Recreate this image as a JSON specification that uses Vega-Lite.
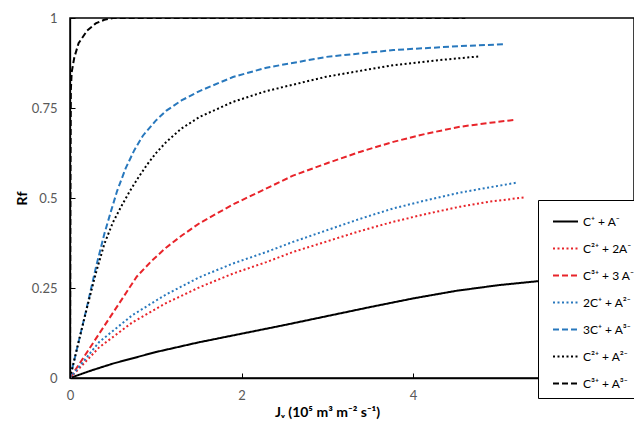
{
  "$schema": "https://vega.github.io/schema/vega-lite/v6.json",
  "autosize": {"type": "none"},
  "padding": {"left": 70, "top": 18, "right": 0, "bottom": 45},
  "width": 564,
  "height": 360,
  "background": "white",
  "config": {
    "view": {"stroke": "#000000", "strokeWidth": 1.5},
    "font": "Lato",
    "axis": {"grid": false, "labelColor": "#595959", "labelFontSize": 13, "labelFont": "Lato", "domainColor": "#000000", "tickColor": "#000000", "domainWidth": 1.3}
  },
  "data": {
    "values": [
      {"s": "C⁺ + A⁻", "x": 0, "y": 0}, {"s": "C⁺ + A⁻", "x": 0.25, "y": 0.021}, {"s": "C⁺ + A⁻", "x": 0.5, "y": 0.04}, {"s": "C⁺ + A⁻", "x": 1, "y": 0.072}, {"s": "C⁺ + A⁻", "x": 1.5, "y": 0.099}, {"s": "C⁺ + A⁻", "x": 2, "y": 0.123}, {"s": "C⁺ + A⁻", "x": 2.5, "y": 0.147}, {"s": "C⁺ + A⁻", "x": 3, "y": 0.172}, {"s": "C⁺ + A⁻", "x": 3.5, "y": 0.197}, {"s": "C⁺ + A⁻", "x": 4, "y": 0.221}, {"s": "C⁺ + A⁻", "x": 4.5, "y": 0.242}, {"s": "C⁺ + A⁻", "x": 5, "y": 0.258}, {"s": "C⁺ + A⁻", "x": 5.5, "y": 0.27}, {"s": "C⁺ + A⁻", "x": 5.8, "y": 0.276},

      {"s": "C²⁺ + 2A⁻", "x": 0, "y": 0}, {"s": "C²⁺ + 2A⁻", "x": 0.34, "y": 0.085}, {"s": "C²⁺ + 2A⁻", "x": 0.73, "y": 0.155}, {"s": "C²⁺ + 2A⁻", "x": 1.12, "y": 0.208}, {"s": "C²⁺ + 2A⁻", "x": 1.51, "y": 0.252}, {"s": "C²⁺ + 2A⁻", "x": 1.9, "y": 0.29}, {"s": "C²⁺ + 2A⁻", "x": 2.29, "y": 0.322}, {"s": "C²⁺ + 2A⁻", "x": 2.6, "y": 0.35}, {"s": "C²⁺ + 2A⁻", "x": 2.99, "y": 0.379}, {"s": "C²⁺ + 2A⁻", "x": 3.38, "y": 0.408}, {"s": "C²⁺ + 2A⁻", "x": 3.77, "y": 0.434}, {"s": "C²⁺ + 2A⁻", "x": 4.16, "y": 0.456}, {"s": "C²⁺ + 2A⁻", "x": 4.55, "y": 0.476}, {"s": "C²⁺ + 2A⁻", "x": 4.9, "y": 0.49}, {"s": "C²⁺ + 2A⁻", "x": 5.31, "y": 0.502},

      {"s": "C³⁺ + 3 A⁻", "x": 0, "y": 0}, {"s": "C³⁺ + 3 A⁻", "x": 0.78, "y": 0.282}, {"s": "C³⁺ + 3 A⁻", "x": 0.95, "y": 0.325}, {"s": "C³⁺ + 3 A⁻", "x": 1.12, "y": 0.362}, {"s": "C³⁺ + 3 A⁻", "x": 1.3, "y": 0.395}, {"s": "C³⁺ + 3 A⁻", "x": 1.51, "y": 0.43}, {"s": "C³⁺ + 3 A⁻", "x": 1.9, "y": 0.482}, {"s": "C³⁺ + 3 A⁻", "x": 2.25, "y": 0.522}, {"s": "C³⁺ + 3 A⁻", "x": 2.6, "y": 0.562}, {"s": "C³⁺ + 3 A⁻", "x": 2.99, "y": 0.596}, {"s": "C³⁺ + 3 A⁻", "x": 3.38, "y": 0.628}, {"s": "C³⁺ + 3 A⁻", "x": 3.77, "y": 0.656}, {"s": "C³⁺ + 3 A⁻", "x": 4.16, "y": 0.679}, {"s": "C³⁺ + 3 A⁻", "x": 4.55, "y": 0.698}, {"s": "C³⁺ + 3 A⁻", "x": 4.9, "y": 0.709}, {"s": "C³⁺ + 3 A⁻", "x": 5.19, "y": 0.717},

      {"s": "2C⁺ + A²⁻", "x": 0, "y": 0}, {"s": "2C⁺ + A²⁻", "x": 0.34, "y": 0.1}, {"s": "2C⁺ + A²⁻", "x": 0.73, "y": 0.175}, {"s": "2C⁺ + A²⁻", "x": 1.12, "y": 0.232}, {"s": "2C⁺ + A²⁻", "x": 1.51, "y": 0.28}, {"s": "2C⁺ + A²⁻", "x": 1.9, "y": 0.318}, {"s": "2C⁺ + A²⁻", "x": 2.29, "y": 0.35}, {"s": "2C⁺ + A²⁻", "x": 2.6, "y": 0.378}, {"s": "2C⁺ + A²⁻", "x": 2.99, "y": 0.41}, {"s": "2C⁺ + A²⁻", "x": 3.38, "y": 0.442}, {"s": "2C⁺ + A²⁻", "x": 3.77, "y": 0.471}, {"s": "2C⁺ + A²⁻", "x": 4.16, "y": 0.494}, {"s": "2C⁺ + A²⁻", "x": 4.55, "y": 0.515}, {"s": "2C⁺ + A²⁻", "x": 4.9, "y": 0.53}, {"s": "2C⁺ + A²⁻", "x": 5.22, "y": 0.543},

      {"s": "3C⁺ + A³⁻", "x": 0, "y": 0}, {"s": "3C⁺ + A³⁻", "x": 0.1, "y": 0.1}, {"s": "3C⁺ + A³⁻", "x": 0.2, "y": 0.2}, {"s": "3C⁺ + A³⁻", "x": 0.3, "y": 0.305}, {"s": "3C⁺ + A³⁻", "x": 0.4, "y": 0.4}, {"s": "3C⁺ + A³⁻", "x": 0.48, "y": 0.465}, {"s": "3C⁺ + A³⁻", "x": 0.55, "y": 0.52}, {"s": "3C⁺ + A³⁻", "x": 0.65, "y": 0.583}, {"s": "3C⁺ + A³⁻", "x": 0.75, "y": 0.633}, {"s": "3C⁺ + A³⁻", "x": 0.85, "y": 0.673}, {"s": "3C⁺ + A³⁻", "x": 1.0, "y": 0.715}, {"s": "3C⁺ + A³⁻", "x": 1.12, "y": 0.742}, {"s": "3C⁺ + A³⁻", "x": 1.3, "y": 0.771}, {"s": "3C⁺ + A³⁻", "x": 1.51, "y": 0.797}, {"s": "3C⁺ + A³⁻", "x": 1.9, "y": 0.836}, {"s": "3C⁺ + A³⁻", "x": 2.29, "y": 0.862}, {"s": "3C⁺ + A³⁻", "x": 2.99, "y": 0.892}, {"s": "3C⁺ + A³⁻", "x": 3.77, "y": 0.911}, {"s": "3C⁺ + A³⁻", "x": 4.55, "y": 0.922}, {"s": "3C⁺ + A³⁻", "x": 5.05, "y": 0.927},

      {"s": "C²⁺ + A²⁻", "x": 0, "y": 0}, {"s": "C²⁺ + A²⁻", "x": 0.1, "y": 0.1}, {"s": "C²⁺ + A²⁻", "x": 0.2, "y": 0.197}, {"s": "C²⁺ + A²⁻", "x": 0.3, "y": 0.29}, {"s": "C²⁺ + A²⁻", "x": 0.4, "y": 0.372}, {"s": "C²⁺ + A²⁻", "x": 0.5, "y": 0.432}, {"s": "C²⁺ + A²⁻", "x": 0.61, "y": 0.482}, {"s": "C²⁺ + A²⁻", "x": 0.7, "y": 0.52}, {"s": "C²⁺ + A²⁻", "x": 0.8, "y": 0.558}, {"s": "C²⁺ + A²⁻", "x": 0.9, "y": 0.593}, {"s": "C²⁺ + A²⁻", "x": 1.0, "y": 0.624}, {"s": "C²⁺ + A²⁻", "x": 1.12, "y": 0.655}, {"s": "C²⁺ + A²⁻", "x": 1.3, "y": 0.693}, {"s": "C²⁺ + A²⁻", "x": 1.51, "y": 0.725}, {"s": "C²⁺ + A²⁻", "x": 1.9, "y": 0.767}, {"s": "C²⁺ + A²⁻", "x": 2.29, "y": 0.797}, {"s": "C²⁺ + A²⁻", "x": 2.99, "y": 0.837}, {"s": "C²⁺ + A²⁻", "x": 3.77, "y": 0.869}, {"s": "C²⁺ + A²⁻", "x": 4.3, "y": 0.883}, {"s": "C²⁺ + A²⁻", "x": 4.76, "y": 0.893},

      {"s": "C³⁺ + A³⁻", "x": 0, "y": 0}, {"s": "C³⁺ + A³⁻", "x": 0.005, "y": 0.5}, {"s": "C³⁺ + A³⁻", "x": 0.01, "y": 0.8}, {"s": "C³⁺ + A³⁻", "x": 0.02, "y": 0.85}, {"s": "C³⁺ + A³⁻", "x": 0.05, "y": 0.89}, {"s": "C³⁺ + A³⁻", "x": 0.1, "y": 0.93}, {"s": "C³⁺ + A³⁻", "x": 0.2, "y": 0.965}, {"s": "C³⁺ + A³⁻", "x": 0.3, "y": 0.985}, {"s": "C³⁺ + A³⁻", "x": 0.4, "y": 0.995}, {"s": "C³⁺ + A³⁻", "x": 0.5, "y": 1.0}, {"s": "C³⁺ + A³⁻", "x": 1, "y": 1}, {"s": "C³⁺ + A³⁻", "x": 2, "y": 1}, {"s": "C³⁺ + A³⁻", "x": 3, "y": 1}, {"s": "C³⁺ + A³⁻", "x": 4, "y": 1}, {"s": "C³⁺ + A³⁻", "x": 4.61, "y": 1}
    ]
  },
  "mark": {"type": "line", "strokeWidth": 2, "clip": true},
  "encoding": {
    "x": {
      "field": "x", "type": "quantitative",
      "scale": {"domain": [0, 6.577], "nice": false, "zero": false},
      "axis": {"values": [0, 2, 4], "labelExpr": "'' + datum.value", "tickSize": -5, "labelPadding": 16, "title": "Jᵥ (10⁵ m³ m⁻² s⁻¹)", "titleFontSize": 14, "titleFontWeight": "bold", "titleColor": "#000000", "titleFont": "Lato", "titleX": 257, "titleY": 34, "titleBaseline": "middle", "labelFlush": false}
    },
    "y": {
      "field": "y", "type": "quantitative",
      "scale": {"domain": [0, 1], "nice": false},
      "axis": {"values": [0, 0.25, 0.5, 0.75, 1], "labelExpr": "'' + datum.value", "tickSize": -5, "labelPadding": 18, "title": "Rf", "titleFontSize": 14, "titleFontWeight": "bold", "titleColor": "#000000", "titleFont": "Lato", "titleX": -48, "titleY": 180, "titleBaseline": "middle", "labelFlush": false}
    },
    "color": {
      "field": "s", "type": "nominal",
      "scale": {"domain": ["C⁺ + A⁻", "C²⁺ + 2A⁻", "C³⁺ + 3 A⁻", "2C⁺ + A²⁻", "3C⁺ + A³⁻", "C²⁺ + A²⁻", "C³⁺ + A³⁻"], "range": ["#000000", "#e8242a", "#e8242a", "#2878bd", "#2878bd", "#000000", "#000000"]},
      "legend": {"title": null, "orient": "none", "legendX": 468, "legendY": 182, "strokeColor": "#000000", "fillColor": "#ffffff", "padding": 8, "symbolOffset": 6, "labelFontSize": 12, "labelColor": "#000000", "labelFont": "Lato", "symbolType": "stroke", "symbolSize": 625, "symbolStrokeWidth": 2, "rowPadding": 7, "labelOffset": 4, "labelLimit": 200}
    },
    "strokeDash": {
      "field": "s", "type": "nominal",
      "scale": {"domain": ["C⁺ + A⁻", "C²⁺ + 2A⁻", "C³⁺ + 3 A⁻", "2C⁺ + A²⁻", "3C⁺ + A³⁻", "C²⁺ + A²⁻", "C³⁺ + A³⁻"], "range": [[1, 0], [2, 2.5], [6, 3], [2, 2.5], [6, 3], [2, 2.5], [6, 3]]},
      "legend": null
    }
  }
}
